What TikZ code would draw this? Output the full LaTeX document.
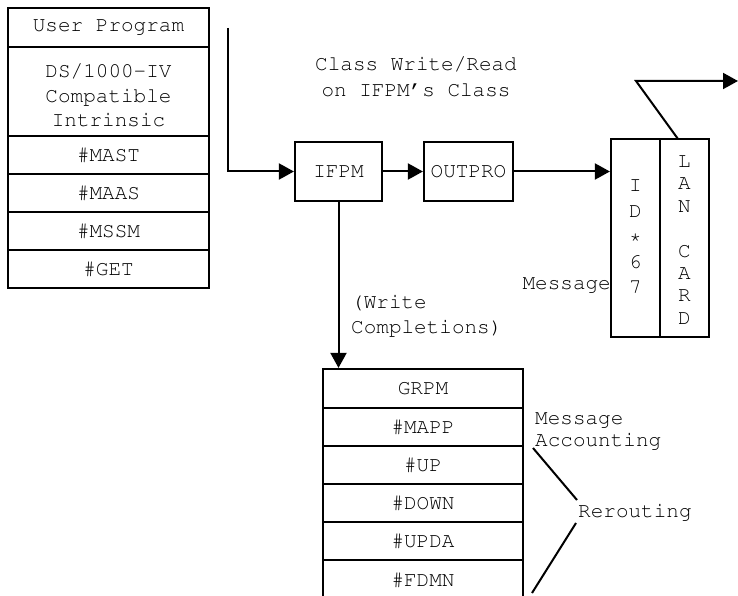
\documentclass[tikz,border=0pt]{standalone}
\usepackage[T1]{fontenc}
\usepackage{courier}
\renewcommand{\familydefault}{\ttdefault}
\usetikzlibrary{arrows.meta}

\tikzset{
  box/.style={draw, line width=2.2bp, inner sep=0pt, align=center},
  cell/.style={box, minimum width=201bp},
  lowcell/.style={box, minimum width=200bp},
  link/.style={line width=2bp},
  flow/.style={link, -{Triangle[length=15bp,width=16bp]}},
  note/.style={inner sep=0pt}
}

\begin{document}
\begin{tikzpicture}[x=1bp, y=-1bp, font=\fontsize{21bp}{25bp}\selectfont]
\useasboundingbox (0,0) rectangle (738,596);
\clip (0,0) rectangle (738,596);

% calling-side stack
\node[cell, minimum height=39bp] (user) at (108.5,27.5) {User Program};
\node[cell, minimum height=89bp] (ds) at (108.5,91.5) {};
\node[note, align=center, font=\fontsize{21bp}{24.5bp}\selectfont] (dstext) at (108.5,95.5) {DS/1000-IV\\Compatible\\Intrinsic};
\node[cell, minimum height=38bp] (mast) at (108.5,155) {\#MAST};
\node[cell, minimum height=38bp] (maas) at (108.5,193) {\#MAAS};
\node[cell, minimum height=38bp] (mssm) at (108.5,231) {\#MSSM};
\node[cell, minimum height=38bp] (get)  at (108.5,269) {\#GET};

% processes
\node[box, minimum width=87bp, minimum height=59bp] (ifpm) at (338.5,171.5) {IFPM};
\node[box, minimum width=89bp, minimum height=59bp] (outpro) at (468.5,171.5) {OUTPRO};

% driver and LAN card
\node[box, minimum width=49bp, minimum height=198bp] (id) at (635.5,238) {};
\node[note, align=center, font=\fontsize{21bp}{25.5bp}\selectfont] (idtext) at (635.5,237) {I\\D\\*\\6\\7};
\node[box, minimum width=49bp, minimum height=198bp] (lan) at (684.5,238) {};
\node[note, align=center, font=\fontsize{21bp}{22.4bp}\selectfont] (lantext) at (684.5,240) {L\\A\\N\\~\\C\\A\\R\\D};

% GRPM stack
\node[lowcell, minimum height=39bp] (grpm) at (423,388.5) {GRPM};
\node[lowcell, minimum height=38bp] (mapp) at (423,427) {\#MAPP};
\node[lowcell, minimum height=38bp] (up)   at (423,465) {\#UP};
\node[lowcell, minimum height=38bp] (down) at (423,503) {\#DOWN};
\node[lowcell, minimum height=38bp] (upda) at (423,541) {\#UPDA};
\node[lowcell, minimum height=40bp] (fdmn) at (423,580) {\#FDMN};

% labels
\node[note, align=center, font=\fontsize{21bp}{26bp}\selectfont] (classrw) at (416,77) {Class Write/Read\\on IFPM's Class};
\node[note, anchor=east] (msg) at (611,285) {Message};
\node[note, anchor=west, align=left] (wc) at (351,315.5) {(Write\\Completions)};
\node[note, anchor=west, align=left, font=\fontsize{21bp}{22bp}\selectfont] (acct) at (535,431) {Message\\Accounting};
\node[note, anchor=west] (rer) at (578,512) {Rerouting};

% connectors
\coordinate (entry) at (228,28);
\draw[flow] (entry) |- (ifpm.west);
\draw[flow] (ifpm.east) -- (outpro.west);
\draw[flow] (outpro.east) -- (outpro.east -| id.west);
\draw[flow] (ifpm.south) -- (ifpm.south |- grpm.north);

\coordinate (lanTap) at (678,139);
\coordinate (lanBend) at (636,81);
\coordinate (lanOut) at (738,81);
\draw[flow] (lanTap) -- (lanBend) -- (lanOut);

\coordinate (rerA) at (533,448);
\coordinate (rerB) at (577,500);
\coordinate (rerC) at (576,523);
\coordinate (rerD) at (532,593);
\draw[link] (rerA) -- (rerB);
\draw[link] (rerC) -- (rerD);
\end{tikzpicture}
\end{document}
